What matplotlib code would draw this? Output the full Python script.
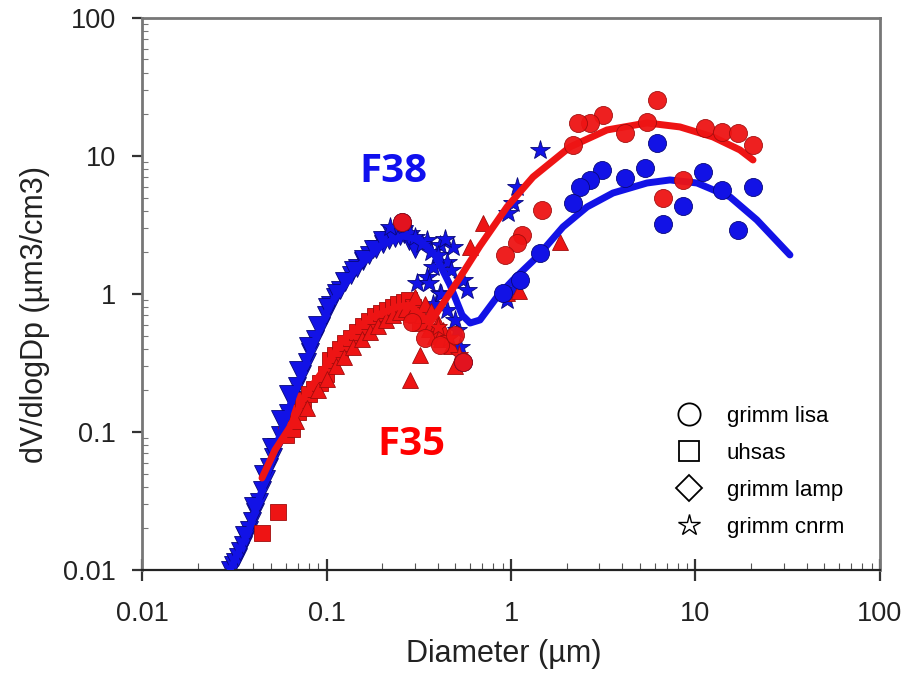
import matplotlib
matplotlib.use("Agg")
import matplotlib.pyplot as plt
from matplotlib.lines import Line2D
from matplotlib.ticker import LogLocator, NullFormatter, FixedLocator, FixedFormatter

plt.rcParams['font.family'] = ['Liberation Sans', 'DejaVu Sans']

# ---- F38 (blue) ----
f38_tri_x = [0.0300, 0.0310, 0.0320, 0.0330, 0.0340, 0.0352, 0.0365, 0.0380, 0.0395, 0.0410,
             0.0428, 0.0447, 0.0468, 0.0490, 0.0510, 0.0532, 0.0558, 0.0585, 0.0615, 0.0650,
             0.0690, 0.0735, 0.0780, 0.0814, 0.0870, 0.0930, 0.0990, 0.1044, 0.111, 0.118,
             0.126, 0.135, 0.146, 0.157, 0.170, 0.185, 0.202, 0.218, 0.235, 0.250, 0.262,
             0.0355, 0.0400, 0.0450, 0.0500, 0.0560, 0.0620, 0.0700, 0.0790, 0.0890,
             0.100, 0.112, 0.125, 0.140, 0.158, 0.178, 0.200, 0.225, 0.280, 0.300]
f38_tri_y = [0.0100, 0.0108, 0.0115, 0.0124, 0.0138, 0.0152, 0.0170, 0.0195, 0.0225, 0.0262,
             0.0310, 0.0380, 0.0460, 0.0560, 0.0660, 0.0778, 0.0950, 0.115, 0.138, 0.170,
             0.215, 0.265, 0.320, 0.380, 0.475, 0.585, 0.700, 0.832, 0.95, 1.07,
             1.22, 1.37, 1.54, 1.72, 1.92, 2.12, 2.30, 2.45, 2.56, 2.63, 2.70,
             0.0180, 0.0290, 0.0500, 0.0780, 0.125, 0.190, 0.280, 0.420, 0.600,
             0.800, 1.02, 1.25, 1.50, 1.80, 2.10, 2.45, 2.70, 2.40, 2.10]

f38_star_x = [0.221, 0.284, 0.350, 0.412, 0.485, 0.450, 0.378, 0.350, 0.309, 0.549,
              0.577, 0.412, 0.450, 0.510, 0.529, 1.436, 1.078, 1.025, 0.963, 1.025, 0.951,
              0.300, 0.330, 0.370, 0.400, 0.440, 0.470, 0.360, 0.420, 0.380, 0.500]
f38_star_y = [3.06, 2.77, 2.46, 2.27, 2.19, 1.705, 1.569, 1.328, 1.20, 1.263,
              1.07, 1.017, 0.766, 0.548, 0.413, 11.05, 5.96, 4.56, 3.86, 1.07, 0.905,
              2.60, 2.30, 2.00, 1.90, 2.50, 1.50, 1.20, 1.00, 0.85, 0.65]

f38_circ_x = [6.18, 5.32, 10.98, 13.92, 20.5, 8.55, 6.66, 17.0, 4.15, 3.11, 2.68, 2.37,
              2.17, 1.436, 1.119, 0.905, 0.549, 0.257]
f38_circ_y = [12.42, 8.18, 7.66, 5.67, 5.96, 4.34, 3.22, 2.91, 6.93, 7.92, 6.70, 5.96,
              4.56, 1.98, 1.263, 1.017, 0.321, 3.30]

f38_fit_x = [0.0300, 0.0380, 0.0447, 0.0532, 0.0650, 0.0814, 0.1044, 0.146, 0.202, 0.260,
             0.321, 0.387, 0.467, 0.543, 0.600, 0.679, 0.840, 1.025, 1.383, 1.913,
             2.582, 3.571, 5.46, 7.27, 10.19, 15.38, 21.5, 32.5]
f38_fit_y = [0.0100, 0.0195, 0.0380, 0.0778, 0.1705, 0.380, 0.832, 1.543, 2.30, 2.63,
             2.46, 1.917, 1.162, 0.704, 0.616, 0.648, 0.951, 1.263, 1.854, 3.06,
             4.27, 5.39, 6.37, 6.70, 6.37, 5.05, 3.44, 1.917]

# ---- F35 (red) ----
f35_sq_x = [0.0447, 0.0546, 0.0600, 0.0650, 0.0700, 0.0746, 0.0800, 0.0860, 0.0922, 0.0990,
            0.1044, 0.111, 0.118, 0.126, 0.135, 0.146, 0.158, 0.170, 0.183, 0.197,
            0.212, 0.228, 0.245, 0.262, 0.280, 0.295, 0.305, 0.320]
f35_sq_y = [0.0185, 0.0263, 0.095, 0.105, 0.140, 0.170, 0.190, 0.205, 0.225, 0.265,
            0.330, 0.36, 0.40, 0.44, 0.48, 0.53, 0.59, 0.64, 0.69, 0.73,
            0.77, 0.80, 0.84, 0.87, 0.90, 0.80, 0.70, 0.62]

f35_tri_x = [0.068, 0.078, 0.090, 0.100, 0.112, 0.125, 0.140, 0.155, 0.172, 0.190,
             0.210, 0.230, 0.250, 0.270, 0.290, 0.330, 0.360, 0.385, 0.420,
             0.284, 0.321, 0.600, 0.705, 1.843, 0.951, 1.10,
             0.300, 0.340, 0.370, 0.400, 0.430, 0.470, 0.500]
f35_tri_y = [0.120, 0.150, 0.200, 0.240, 0.300, 0.350, 0.410, 0.470, 0.530, 0.590,
             0.650, 0.700, 0.740, 0.780, 0.720, 0.700, 0.560, 0.500, 0.470,
             0.238, 0.361, 2.19, 3.27, 2.38, 1.017, 1.05,
             0.95, 0.85, 0.75, 0.62, 0.55, 0.42, 0.30]

f35_star_x = [0.52, 0.46, 0.40]
f35_star_y = [0.36, 0.48, 0.58]

f35_circ_x = [6.18, 5.46, 4.15, 3.15, 2.68, 2.31, 2.17, 1.472, 1.147, 1.078, 0.928,
              6.66, 8.55, 11.26, 13.92, 17.0, 20.5, 0.291, 0.342, 0.412, 0.497, 0.257, 0.549]
f35_circ_y = [25.5, 17.6, 14.7, 19.8, 17.35, 17.35, 12.0, 4.06, 2.676, 2.34, 1.917,
              4.96, 6.70, 15.95, 14.9, 14.7, 12.0, 0.627, 0.480, 0.427, 0.505, 3.30, 0.321]

f35_fit_x = [0.0447, 0.0526, 0.0634, 0.0765, 0.0922, 0.1229, 0.172, 0.241, 0.2836, 0.321,
             0.364, 0.510, 0.679, 0.951, 1.316, 2.088, 3.313, 5.46, 8.24, 12.44, 17.42, 20.5]
f35_fit_y = [0.0464, 0.0741, 0.1087, 0.1854, 0.2588, 0.464, 0.670, 0.805, 0.832, 0.704,
             0.616, 1.22, 2.23, 4.27, 7.04, 11.62, 15.43, 17.35, 16.23, 13.73, 11.05, 9.35]

legend_labels = ["grimm lisa", "uhsas", "grimm lamp", "grimm cnrm"]

blue = "#1212e6"
blue_edge = "#08087a"
red = "#ee1414"
red_edge = "#a00c0c"

fig = plt.figure(figsize=(9.18, 6.8), dpi=100)
ax = fig.add_axes([0.1547, 0.1618, 0.8039, 0.8118])

ax.plot(f38_tri_x, f38_tri_y, "v", ms=13, color=blue, mec=blue_edge, mew=0.6, zorder=2)
ax.plot(f38_star_x, f38_star_y, "*", ms=15, color=blue, mec=blue_edge, mew=0.6, zorder=2)
ax.plot(f35_sq_x, f35_sq_y, "s", ms=11, color=red, mec=red_edge, mew=0.6, zorder=2)
ax.plot(f35_tri_x, f35_tri_y, "^", ms=11, color=red, mec=red_edge, mew=0.6, zorder=2)
ax.plot(f35_star_x, f35_star_y, "*", ms=14, color=red, mec=red_edge, mew=0.6, zorder=2)

ax.plot(f38_fit_x, f38_fit_y, "-", color=blue, lw=5, solid_capstyle="round", zorder=3)
ax.plot(f35_fit_x, f35_fit_y, "-", color=red, lw=5, solid_capstyle="round", zorder=3)

ax.plot(f38_circ_x, f38_circ_y, "o", ms=13, color=blue, mec=blue_edge, mew=0.6, zorder=4)
ax.plot(f35_circ_x, f35_circ_y, "o", ms=13, color=red, mec=red_edge, mew=0.6, zorder=4, alpha=0.95)

ax.text(0.229, 7.66, "F38", color="#1010ee", fontsize=29, fontweight="bold",
        family="Open Sans", ha="center", va="center")
ax.text(0.287, 0.0805, "F35", color="#ff0000", fontsize=29, fontweight="bold",
        family="Open Sans", ha="center", va="center")

ax.set_xscale("log")
ax.set_yscale("log")
ax.set_xlim(0.01, 100)
ax.set_ylim(0.01, 100)

decades = [0.01, 0.1, 1, 10, 100]
decade_labels = ["0.01", "0.1", "1", "10", "100"]
ax.xaxis.set_major_locator(FixedLocator(decades))
ax.xaxis.set_major_formatter(FixedFormatter(decade_labels))
ax.yaxis.set_major_locator(FixedLocator(decades))
ax.yaxis.set_major_formatter(FixedFormatter(decade_labels))
ax.xaxis.set_minor_locator(LogLocator(base=10, subs=range(2, 10)))
ax.yaxis.set_minor_locator(LogLocator(base=10, subs=range(2, 10)))
ax.xaxis.set_minor_formatter(NullFormatter())
ax.yaxis.set_minor_formatter(NullFormatter())

ax.tick_params(axis="x", which="major", direction="inout", length=16, width=1.6,
               color="#333333", labelsize=19.5, pad=14, labelcolor="#222222")
ax.tick_params(axis="x", which="minor", direction="in", length=5, width=0.8, color="#555555")
ax.tick_params(axis="y", which="major", direction="out", length=7, width=1.6,
               color="#333333", labelsize=19.5, pad=12, labelcolor="#222222")
ax.tick_params(axis="y", which="minor", direction="in", length=4, width=0.8, color="#777777")

for side in ["top", "right", "left"]:
    ax.spines[side].set_color("#777777")
    ax.spines[side].set_linewidth(2.0)
ax.spines["bottom"].set_color("#222222")
ax.spines["bottom"].set_linewidth(1.6)

ax.set_xlabel("Diameter (µm)", fontsize=22, color="#222222")
ax.set_ylabel("dV/dlogDp (µm3/cm3)", fontsize=22, color="#222222")
ax.xaxis.set_label_coords(0.49, -0.125)
ax.yaxis.set_label_coords(-0.125, 0.462)

handles = [
    Line2D([], [], marker="o", ls="none", mfc="none", mec="black", ms=16, mew=1.3),
    Line2D([], [], marker="s", ls="none", mfc="none", mec="black", ms=14, mew=1.3),
    Line2D([], [], marker="D", ls="none", mfc="none", mec="black", ms=13, mew=1.3),
    Line2D([], [], marker="*", ls="none", mfc="none", mec="black", ms=16, mew=1.0),
]
ax.legend(handles, legend_labels, loc="upper left", bbox_to_anchor=(0.726, 0.297),
          frameon=False, fontsize=16, handlelength=1.0, handletextpad=1.2,
          labelspacing=0.72, borderpad=0, borderaxespad=0)

fig.savefig("out.png", dpi=100)
